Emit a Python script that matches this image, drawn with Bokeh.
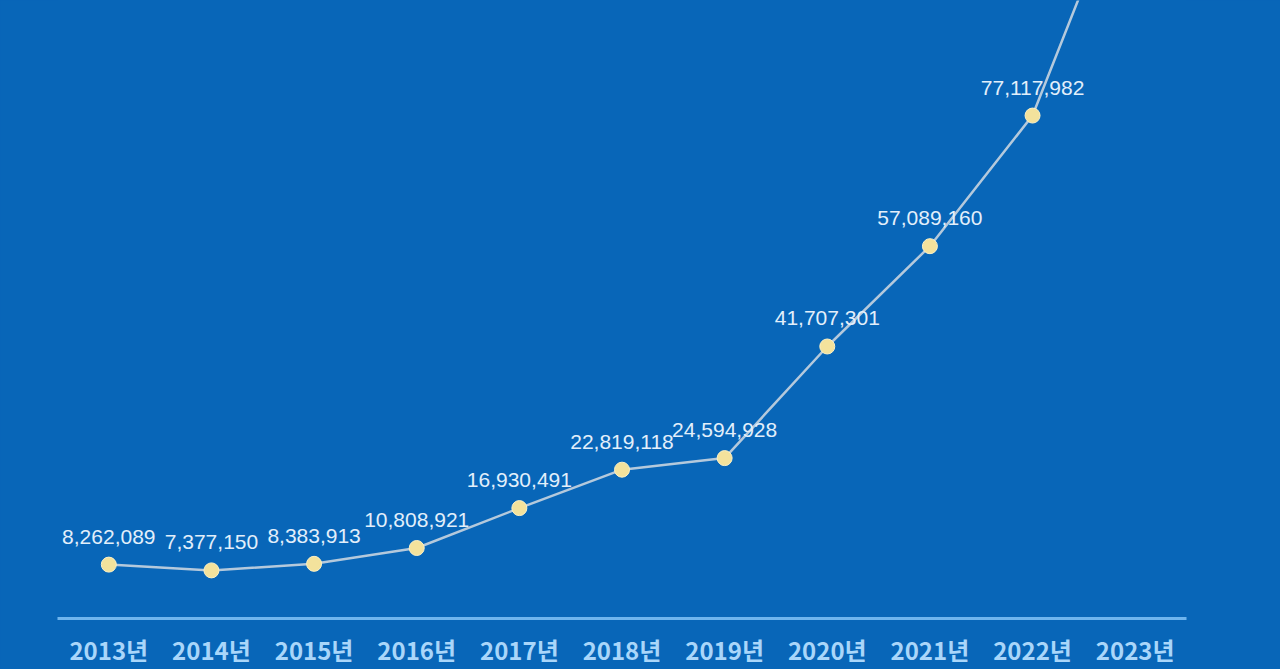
from bokeh.plotting import figure
from bokeh.models import ColumnDataSource, FactorRange, Range1d, GlobalInlineStyleSheet
from bokeh.core.properties import value
from bokeh.embed import file_html
from bokeh.resources import INLINE

# data (2023 point runs off the top, value estimated,
# its label is not visible in the chart)
years = ["2013년", "2014년", "2015년", "2016년", "2017년", "2018년",
         "2019년", "2020년", "2021년", "2022년", "2023년"]
counts = [8262089, 7377150, 8383913, 10808921, 16930491, 22819118,
          24594928, 41707301, 57089160, 77117982, 117000000]
count_labels = ["8,262,089", "7,377,150", "8,383,913", "10,808,921", "16,930,491",
                "22,819,118", "24,594,928", "41,707,301", "57,089,160", "77,117,982",
                ""]

BG = "#0866b8"

src = ColumnDataSource(data=dict(year=years, count=counts, label=count_labels))

p = figure(width=1280, height=669, output_backend="svg", toolbar_location=None,
           x_range=FactorRange(factors=years, range_padding=0),
           y_range=Range1d(0, 94760000),
           min_border_left=57, min_border_right=94, min_border_top=0, min_border_bottom=51)
p.background_fill_color = BG
p.border_fill_color = BG
p.outline_line_color = None
p.grid.visible = False
p.yaxis.visible = False

# bottom axis: light blue rule with the year labels under it
p.xaxis.axis_line_color = "#6fb5ee"
p.xaxis.axis_line_width = 3
p.xaxis.major_tick_line_color = None
p.xaxis.minor_tick_line_color = None
p.xaxis.major_label_standoff = 7
p.xaxis.major_label_text_color = "#a9d6fa"
p.xaxis.major_label_text_font = "Noto Sans CJK KR"
p.xaxis.major_label_text_font_style = "bold"
p.xaxis.major_label_text_font_size = "24px"

p.line("year", "count", source=src, line_color="#b4c9dc", line_width=2.5)
p.scatter("year", "count", source=src, size=15, fill_color="#f3e29c",
          line_color="#fbf1c6", line_width=1)
p.text("year", "count", text="label", source=src, y_offset=-28,
       text_align="center", text_baseline="middle", text_color="#e2effb",
       text_font=value("Liberation Sans"), text_font_size="21px")

p.stylesheets = [GlobalInlineStyleSheet(css="body{background:%s;}" % BG)]

open("out.html", "w").write(file_html(p, INLINE))
